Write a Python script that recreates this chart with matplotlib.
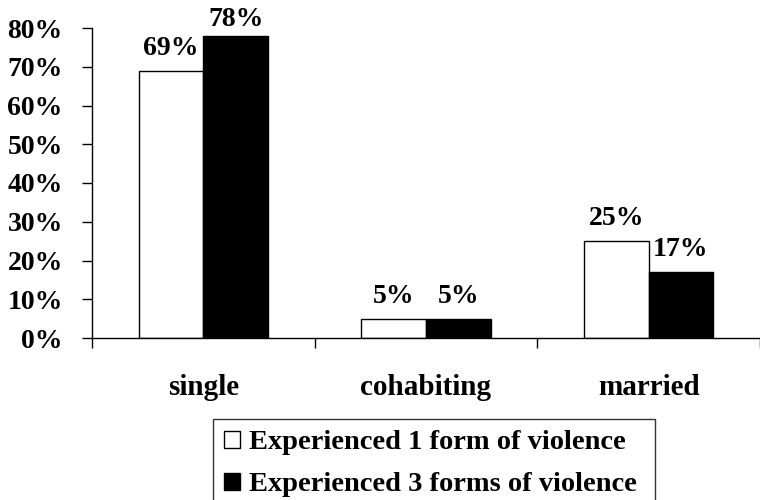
import matplotlib
matplotlib.use("Agg")
import matplotlib.pyplot as plt
from matplotlib.patches import Patch
import numpy as np

categories = ["single", "cohabiting", "married"]
one_form = [69, 5, 25]
three_forms = [78, 5, 17]
series_names = ["Experienced 1 form of violence", "Experienced 3 forms of violence"]
yticks = [0, 10, 20, 30, 40, 50, 60, 70, 80]

plt.rcParams['font.family'] = ['Liberation Serif', 'DejaVu Serif']
plt.rcParams['font.weight'] = 'bold'

fig = plt.figure(figsize=(7.6, 5.0), dpi=100)
ax = fig.add_axes([0.121, 0.324, 0.879, 0.62])

x = np.arange(len(categories)) + 0.5
w = 0.29
b1 = ax.bar(x - w / 2, one_form, w, color="white", edgecolor="black", linewidth=1.0)
b2 = ax.bar(x + w / 2, three_forms, w, color="black", edgecolor="black", linewidth=1.0)

for bars, vals in ((b1, one_form), (b2, three_forms)):
    for r, v in zip(bars, vals):
        ax.text(r.get_x() + r.get_width() / 2, min(v + 4.1, 80.6), f"{v}%",
                ha="center", va="baseline", fontsize=20, fontweight="bold")

ax.set_xlim(0, 3)
ax.set_ylim(0, 80)
ax.set_yticks(yticks)
ax.set_yticklabels([f"{t}%" for t in yticks], fontsize=20, fontweight="bold")
ax.set_xticks([0, 1, 2, 3])
ax.set_xticklabels([])
ax.set_xticks(x, minor=True)
ax.set_xticklabels(categories, minor=True, fontsize=21, fontweight="bold")
ax.tick_params(axis="x", which="major", direction="out", length=7, width=1)
ax.tick_params(axis="x", which="minor", length=0, pad=26)
ax.tick_params(axis="y", direction="out", length=7, width=1, pad=14)

for s in ("top", "right"):
    ax.spines[s].set_visible(False)
for s in ("left", "bottom"):
    ax.spines[s].set_linewidth(1.0)

handles = [Patch(facecolor="white", edgecolor="black", linewidth=1.0),
           Patch(facecolor="black", edgecolor="black", linewidth=1.0)]
leg = fig.legend(handles, series_names, loc="upper left",
                 bbox_to_anchor=(213 / 760, 0.0, 442 / 760, 81 / 500), mode="expand",
                 fontsize=20.5, frameon=True, fancybox=False, edgecolor="black",
                 handlelength=0.55, handleheight=0.55, handletextpad=0.3,
                 borderpad=0.4, labelspacing=0.6, borderaxespad=0)
leg.get_frame().set_linewidth(1.0)
for t in leg.get_texts():
    t.set_fontweight("bold")

fig.savefig("out.png", dpi=100)
